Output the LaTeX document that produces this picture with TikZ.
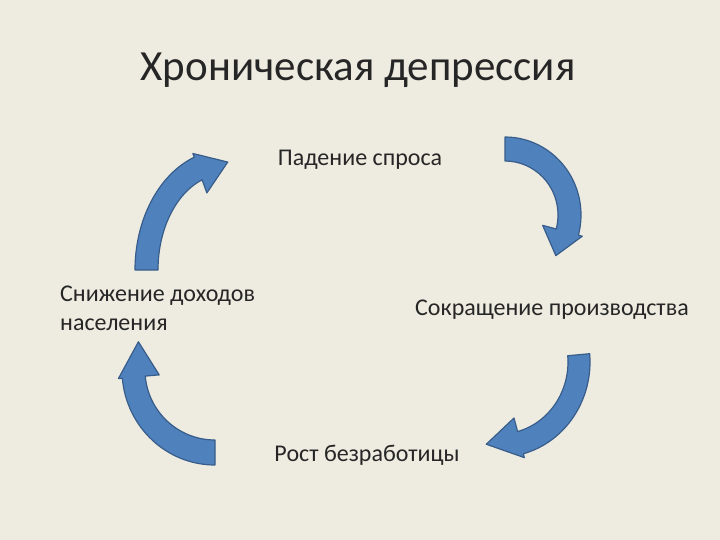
\documentclass[tikz,border=0pt]{standalone}
\usepackage{fontspec}
\setmainfont{Carlito}
\usetikzlibrary{calc}
\definecolor{bg}{HTML}{EEECE1}
\definecolor{af}{HTML}{4F81BD}
\definecolor{ad}{HTML}{385D8A}
\tikzset{arr/.style={fill=af,draw=ad,line width=1.2pt,line join=round},
lbl/.style={font=\fontsize{24}{29}\selectfont,text=black!85,inner sep=0pt}}
% center, rxo, ryo, rxi, ryi, a0, a1, tip
\newcommand\carrow[8]{%
\draw[arr] ($(#1)+(#6:{#2} and {#3})$) arc[start angle=#6,end angle=#7,x radius=#2,y radius=#3]
 -- ($(#1)+(#7:{#2+4} and {#3+4})$) -- ($(#1)+(#8:{(#2+#4)/2} and {(#3+#5)/2})$) -- ($(#1)+(#7:{#4-14} and {#5-14})$)
 -- ($(#1)+(#7:{#4} and {#5})$) arc[start angle=#7,end angle=#6,x radius=#4,y radius=#5] -- cycle;}
\begin{document}
\begin{tikzpicture}[x=1pt,y=-1pt]
\fill[bg] (0,0) rectangle (720,540);
\useasboundingbox (0,0) rectangle (720,540);
\node[font=\fontsize{43}{50}\selectfont,inner sep=0pt,text=black!85] (t) at (358,70) {Хроническая депрессия};
\node[lbl] (a) at (360,160) {Падение спроса};
\node[lbl,anchor=west] (b) at (415,310) {Сокращение производства};
\node[lbl] (c) at (367,455) {Рост безработицы};
\node[lbl,anchor=west,align=left] (d) at (60,308) {Снижение доходов\\населения};
\coordinate (c1) at (505,215);
\coordinate (c2) at (500,362);
\coordinate (c3) at (215,370);
\coordinate (c4) at (225,270);
\carrow{c1}{76}{78}{53}{54}{-90}{15}{38}
\carrow{c2}{90}{95}{68}{72}{-5}{75}{100}
\carrow{c3}{93}{95}{70}{70}{90}{175}{200}
\carrow{c4}{90}{120}{67}{96}{180}{250}{272}
\end{tikzpicture}
\end{document}
